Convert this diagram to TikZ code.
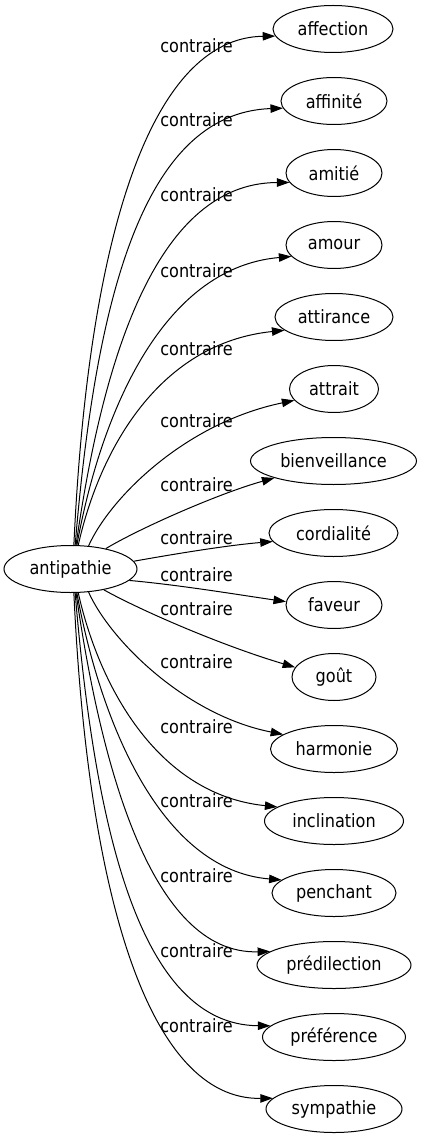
\documentclass[tikz,border=0pt]{standalone}
\usepackage{fontspec}
\setmainfont{DejaVu Sans}[FakeStretch=0.88]
\usetikzlibrary{arrows.meta,shapes.geometric}
\tikzset{
  word/.style={ellipse, draw, line width=1pt, inner sep=0pt, minimum height=47pt,
    font=\fontsize{18.3}{22}\selectfont},
  rel/.style={font=\fontsize{18.3}{22}\selectfont, inner sep=0pt, anchor=base},
  link/.style={line width=1pt, -{Triangle[length=12.5pt,width=8.5pt]}},
}
\begin{document}
\begin{tikzpicture}[x=1pt,y=-1pt]
\useasboundingbox (0,0) rectangle (423,1139);
% nodes
\node[word, minimum width=133pt] (anti) at (70.5,569) {antipathie};
\node[word, minimum width=120pt] (n1) at (333,29) {affection};
\node[word, minimum width=106pt] (n2) at (334,101) {affinité};
\node[word, minimum width=96pt] (n3) at (334,173) {amitié};
\node[word, minimum width=96pt] (n4) at (334,245) {amour};
\node[word, minimum width=118pt] (n5) at (334,317) {attirance};
\node[word, minimum width=89pt] (n6) at (334,389) {attrait};
\node[word, minimum width=166pt] (n7) at (333.5,461) {bienveillance};
\node[word, minimum width=129pt] (n8) at (333.5,533) {cordialité};
\node[word, minimum width=96pt] (n9) at (334,605) {faveur};
\node[word, minimum width=84pt] (n10) at (334,677) {goût};
\node[word, minimum width=127pt] (n11) at (334,749) {harmonie};
\node[word, minimum width=139pt] (n12) at (334,821) {inclination};
\node[word, minimum width=124pt] (n13) at (334,893) {penchant};
\node[word, minimum width=154pt] (n14) at (334,965) {prédilection};
\node[word, minimum width=143pt] (n15) at (334,1037) {préférence};
\node[word, minimum width=136pt] (n16) at (334,1109) {sympathie};
% labels
\node[rel] (l1) at (196.5,53) {contraire};
\node[rel] (l2) at (196.5,127) {contraire};
\node[rel] (l3) at (196.5,202) {contraire};
\node[rel] (l4) at (196.5,278) {contraire};
\node[rel] (l5) at (196.5,355) {contraire};
\node[rel] (l6) at (196.5,427) {contraire};
\node[rel] (l7) at (196.5,491) {contraire};
\node[rel] (l8) at (196.5,544) {contraire};
\node[rel] (l9) at (196.5,581) {contraire};
\node[rel] (l10) at (196.5,615) {contraire};
\node[rel] (l11) at (196.5,668) {contraire};
\node[rel] (l12) at (196.5,733) {contraire};
\node[rel] (l13) at (196.5,807) {contraire};
\node[rel] (l14) at (196.5,882) {contraire};
\node[rel] (l15) at (196.5,957) {contraire};
\node[rel] (l16) at (196.5,1032) {contraire};
% edges
\draw[link] (anti.82) .. controls (88,238) and (150,38) .. (n1.187);
\draw[link] (anti.79) .. controls (95,308) and (140,113) .. (n2.188);
\draw[link] (anti.77) .. controls (100,378) and (150,183) .. (n3.192);
\draw[link] (anti.75) .. controls (100,418) and (160,268) .. (n4.195);
\draw[link] (anti.72) .. controls (100,448) and (160,343) .. (n5.195);
\draw[link] (anti.52) .. controls (110,498) and (185,423) .. (n6.196);
\draw[link] (anti.30) .. controls (140,528) and (220,493) .. (n7.196);
\draw[link] (anti.7) .. controls (180,553) and (230,545) .. (n8.188);
\draw[link] (anti.-11) .. controls (180,585) and (240,595) .. (n9.176);
\draw[link] (anti.-32) .. controls (140,610) and (220,645) .. (n10.166);
\draw[link] (anti.-52) .. controls (110,640) and (185,715) .. (n11.164);
\draw[link] (anti.-72) .. controls (100,690) and (160,795) .. (n12.166);
\draw[link] (anti.-75) .. controls (100,720) and (160,870) .. (n13.166);
\draw[link] (anti.-77) .. controls (100,760) and (150,955) .. (n14.168);
\draw[link] (anti.-79) .. controls (95,830) and (140,1025) .. (n15.170);
\draw[link] (anti.-82) .. controls (88,900) and (150,1100) .. (n16.170);
\end{tikzpicture}
\end{document}
